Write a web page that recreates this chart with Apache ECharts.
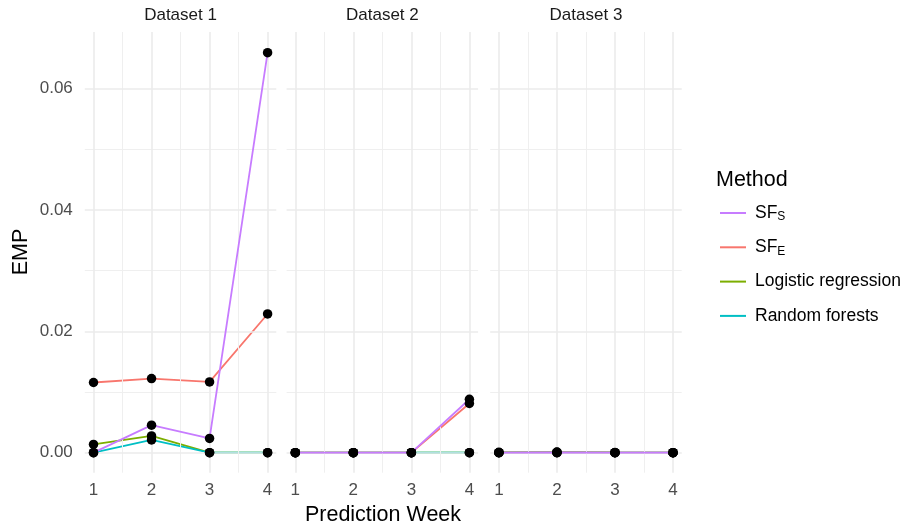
<!DOCTYPE html>
<html>
<head>
<meta charset="utf-8">
<script src="https://cdn.jsdelivr.net/npm/echarts@6/dist/echarts.min.js"></script>
<style>
html,body{margin:0;padding:0;background:#fff;}
#chart{width:907px;height:527px;}
</style>
</head>
<body>
<div id="chart"></div>
<script>
// ---- data ----
const weeks = [1, 2, 3, 4];
const datasetNames = ['Dataset 1', 'Dataset 2', 'Dataset 3'];
const xTicks = [1, 2, 3, 4];
const xMinorTicks = [1.5, 2.5, 3.5];
const yTicks = [0, 0.02, 0.04, 0.06];
const yMinorTicks = [0.01, 0.03, 0.05];

const sfS_1 = [0, 0.00453, 0.00234, 0.0659];
const sfE_1 = [0.01156, 0.01221, 0.01165, 0.02285];
const lr_1  = [0.00135, 0.00275, 0, 0];
const rf_1  = [0, 0.00209, 0, 0];

const sfS_2 = [0, 0, 0, 0.0088];
const sfE_2 = [0, 0, 0, 0.0081];
const lr_2  = [0, 0, 0, 0];
const rf_2  = [0, 0, 0, 0];

const sfS_3 = [0, 0.00005, 0, 0];
const sfE_3 = [0, 0, 0, 0];
const lr_3  = [0.00005, 0.0001, 0.00003, 0];
const rf_3  = [0, 0, 0, 0];

const methodNames = ['SF_S', 'SF_E', 'Logistic regression', 'Random forests'];
const methodColors = {
  'SF_S': '#C77CFF',
  'SF_E': '#F8766D',
  'Logistic regression': '#7CAE00',
  'Random forests': '#00BFC4'
};
// drawing order (alphabetical groups as in ggplot)
const drawOrder = ['Logistic regression', 'Random forests', 'SF_E', 'SF_S'];
const panelData = [
  {'SF_S': sfS_1, 'SF_E': sfE_1, 'Logistic regression': lr_1, 'Random forests': rf_1},
  {'SF_S': sfS_2, 'SF_E': sfE_2, 'Logistic regression': lr_2, 'Random forests': rf_2},
  {'SF_S': sfS_3, 'SF_E': sfE_3, 'Logistic regression': lr_3, 'Random forests': rf_3}
];

// ---- layout ----
const FONT = "'Liberation Sans', Arial, Helvetica, sans-serif";
const gridLefts = [84.8, 286.6, 490.2];
const gridWidth = 191.5;
const gridTop = 32;
const gridBottom = 54.3;
const xMin = 0.85, xMax = 4.15;
const yMin = -0.0033, yMax = 0.0693;

const grids = [], xAxes = [], yAxes = [], series = [];
const near = (v, arr) => arr.some(t => Math.abs(t - v) < 1e-9);

for (let p = 0; p < 3; p++) {
  grids.push({left: gridLefts[p], width: gridWidth, top: gridTop, bottom: gridBottom});
  xAxes.push({
    type: 'value', gridIndex: p, min: xMin, max: xMax, splitNumber: 3,
    axisLine: {show: false}, axisTick: {show: false}, splitLine: {show: false},
    axisLabel: {
      show: true, margin: 9, fontSize: 17, color: '#4d4d4d', fontFamily: FONT,
      formatter: v => near(v, xTicks) ? String(Math.round(v)) : ''
    }
  });
  yAxes.push({
    type: 'value', gridIndex: p, min: yMin, max: yMax, splitNumber: 4,
    axisLine: {show: false}, axisTick: {show: false}, splitLine: {show: false},
    axisLabel: {
      show: p === 0, margin: 12, fontSize: 17, color: '#4d4d4d', fontFamily: FONT,
      formatter: v => near(v, yTicks) ? v.toFixed(2) : ''
    }
  });
  // grid lines via markLine
  const ml = [];
  yMinorTicks.forEach(v => ml.push({yAxis: v, lineStyle: {color: '#efefef', width: 1}}));
  xMinorTicks.forEach(v => ml.push({xAxis: v, lineStyle: {color: '#efefef', width: 1}}));
  yTicks.forEach(v => ml.push({yAxis: v, lineStyle: {color: '#ebebeb', width: 1.6}}));
  xTicks.forEach(v => ml.push({xAxis: v, lineStyle: {color: '#ebebeb', width: 1.6}}));
  series.push({
    type: 'line', xAxisIndex: p, yAxisIndex: p, data: [], z: 1, silent: true,
    markLine: {silent: true, symbol: ['none', 'none'], label: {show: false},
      emphasis: {disabled: true}, animation: false,
      lineStyle: {type: 'solid'}, data: ml}
  });
  drawOrder.forEach((m, k) => {
    const vals = panelData[p][m];
    series.push({
      name: m, type: 'line', xAxisIndex: p, yAxisIndex: p, z: 2 + k,
      data: weeks.map((w, i) => [w, vals[i]]),
      symbol: 'none', silent: true,
      lineStyle: {color: methodColors[m], width: 1.8},
      itemStyle: {color: methodColors[m]},
      emphasis: {disabled: true}
    });
  });
  const pts = [];
  drawOrder.forEach(m => weeks.forEach((w, i) => pts.push([w, panelData[p][m][i]])));
  series.push({
    type: 'scatter', xAxisIndex: p, yAxisIndex: p, z: 10, data: pts,
    symbolSize: 9.5, itemStyle: {color: '#000', opacity: 1}, silent: true,
    emphasis: {disabled: true}
  });
}

const graphics = [];
datasetNames.forEach((d, p) => {
  graphics.push({type: 'text', x: gridLefts[p] + gridWidth / 2, y: 15.7,
    style: {text: d, fontSize: 17, fontFamily: FONT, fill: '#1a1a1a', align: 'center', verticalAlign: 'middle'}});
});
graphics.push({type: 'text', x: 383, y: 515,
  style: {text: 'Prediction Week', fontSize: 21.5, fontFamily: FONT, fill: '#000', align: 'center', verticalAlign: 'middle'}});
graphics.push({type: 'text', x: 21, y: 252, rotation: Math.PI / 2,
  style: {text: 'EMP', fontSize: 21.5, fontFamily: FONT, fill: '#000', align: 'center', verticalAlign: 'middle'}});
graphics.push({type: 'text', x: 716, y: 180,
  style: {text: 'Method', fontSize: 21.5, fontFamily: FONT, fill: '#000', align: 'left', verticalAlign: 'middle'}});

const option = {
  animation: false,
  backgroundColor: '#fff',
  grid: grids,
  xAxis: xAxes,
  yAxis: yAxes,
  legend: {
    orient: 'vertical', left: 720, top: 203, padding: 0,
    itemWidth: 26, itemHeight: 2, itemGap: 14.3, icon: 'rect',
    selectedMode: false,
    data: methodNames,
    formatter: name => {
      if (name === 'SF_S') return '{m|SF}{s|S}';
      if (name === 'SF_E') return '{m|SF}{s|E}';
      return '{m|' + name + '}';
    },
    textStyle: {
      fontSize: 17.5, fontFamily: FONT, color: '#000', lineHeight: 20, padding: [0, 0, 0, 4],
      rich: {
        m: {fontSize: 17.5, fontFamily: FONT, color: '#000', lineHeight: 20},
        s: {fontSize: 12, fontFamily: FONT, color: '#000', lineHeight: 12, verticalAlign: 'bottom'}
      }
    }
  },
  graphic: graphics,
  series: series
};

const chart = echarts.init(document.getElementById('chart'), null, {renderer: 'canvas'});
chart.setOption(option);
</script>
</body>
</html>
